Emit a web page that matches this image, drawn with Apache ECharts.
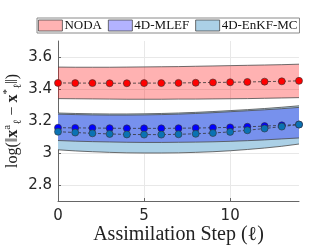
<!DOCTYPE html>
<html>
<head>
<meta charset="utf-8">
<script src="https://cdn.jsdelivr.net/npm/echarts@6/dist/echarts.min.js"></script>
<style>html,body{margin:0;padding:0;background:#fff}#c{width:332px;height:250px}</style>
</head>
<body>
<div id="c"></div>
<script>
var steps = ['0','1','2','3','4','5','6','7','8','9','10','11','12','13','14'];
var yTicks = [2.8,3.0,3.2,3.4,3.6];
var names = ['NODA','4D-MLEF','4D-EnKF-MC'];

var nodaMean  = [3.438,3.437,3.437,3.436,3.436,3.437,3.437,3.438,3.439,3.441,3.442,3.444,3.446,3.448,3.451];
var nodaUpper = [3.537,3.536,3.536,3.536,3.537,3.538,3.539,3.540,3.542,3.544,3.546,3.548,3.550,3.552,3.555];
var nodaLower = [3.340,3.339,3.338,3.337,3.336,3.336,3.336,3.337,3.337,3.338,3.339,3.340,3.342,3.344,3.346];

var mlefMean  = [3.158,3.157,3.156,3.155,3.154,3.154,3.154,3.155,3.156,3.158,3.160,3.164,3.168,3.173,3.178];
var mlefUpper = [3.243,3.240,3.238,3.237,3.237,3.238,3.240,3.243,3.247,3.252,3.258,3.264,3.270,3.277,3.285];
var mlefLower = [3.078,3.074,3.071,3.069,3.067,3.066,3.066,3.067,3.068,3.070,3.073,3.077,3.082,3.088,3.094];

var enkfMean  = [3.133,3.128,3.123,3.119,3.116,3.115,3.115,3.117,3.120,3.125,3.132,3.142,3.153,3.165,3.178];
var enkfUpper = [3.250,3.247,3.245,3.244,3.244,3.245,3.247,3.250,3.254,3.259,3.265,3.271,3.278,3.286,3.295];
var enkfLower = [3.020,3.013,3.008,3.004,3.001,3.000,3.000,3.001,3.004,3.008,3.014,3.022,3.031,3.042,3.056];

var fills = ['rgba(255,0,0,0.3)','rgba(0,0,255,0.3)','rgb(171,208,230)'];
var legendFills = ['#ffb3b3','#b3b3ff','#abd0e6'];
var markerColors = ['#ff0000','#0000ff','#0a72b4'];
var edge = '#4a4a4a';

function diffs(up, lo){ return up.map(function(v,i){return +(v-lo[i]).toFixed(4);}); }

function band(name, lo, up, fill, z){
  return [
    {name: name+' lower', type:'line', stack: name, data: lo, symbol:'none',
     lineStyle:{color:edge, width:0.8}, z:z, silent:true},
    {name: name, type:'line', stack: name, data: diffs(up, lo), symbol:'none',
     lineStyle:{color:edge, width:0.8}, areaStyle:{color:fill, opacity:1}, itemStyle:{color:fill}, z:z, silent:true}
  ];
}
function meanLine(name, ys, color, z){
  return {name: name+' mean', type:'line', data: ys, symbol:'circle', symbolSize:7,
    itemStyle:{color:color, borderColor:'#333', borderWidth:0.6},
    lineStyle:{color:'#333', width:0.8, type:[3,2]}, z:z, silent:true};
}

var series = [].concat(
  band(names[0], nodaLower, nodaUpper, fills[0], 1),
  band(names[2], enkfLower, enkfUpper, fills[2], 2),
  band(names[1], mlefLower, mlefUpper, fills[1], 3),
  [meanLine(names[0], nodaMean, markerColors[0], 5),
   meanLine(names[1], mlefMean, markerColors[1], 6),
   meanLine(names[2], enkfMean, markerColors[2], 7)]
);

var chart = echarts.init(document.getElementById('c'), null, {renderer:'canvas'});
chart.setOption({
  animation:false,
  backgroundColor:'#fff',
  grid:{left:58, top:41, width:241, height:160, containLabel:false, outerBoundsMode:'none'},
  legend:{
    left:37, top:18, padding:[1,2,1,1], itemGap:6, itemWidth:24, itemHeight:11,
    borderColor:'#8a8a8a', borderWidth:1, backgroundColor:'#fff',
    textStyle:{fontFamily:'Liberation Serif', fontSize:13, color:'#111', padding:[0,0,0,-3]},
    data: names.map(function(n,i){return {name:n, icon:'rect', itemStyle:{color:legendFills[i], borderColor:edge, borderWidth:0.8}};})
  },
  xAxis:{
    type:'category', data:steps, boundaryGap:false,
    name:'Assimilation Step (ℓ)', nameLocation:'middle', nameGap:24, nameMoveOverlap:false,
    nameTextStyle:{fontFamily:'Liberation Serif', fontSize:20, color:'#222'},
    axisLine:{show:true, lineStyle:{color:'#666', width:1}},
    axisTick:{show:true, inside:true, length:3, interval:4, lineStyle:{color:'#666'}},
    axisLabel:{interval:4, fontFamily:'DejaVu Sans', fontSize:15, color:'#262626', margin:8},
    splitLine:{show:true, interval:4, lineStyle:{color:'#e8e8e8', width:1}}
  },
  yAxis:{
    type:'value', min:2.7, max:3.7,
    name:'{n|log(‖}{b|x}{sup|a}{sub|ℓ}{n| − }{b|x}{sup|*}{sub|ℓ}{n|‖)}',
    nameLocation:'middle', nameRotate:90, nameGap:34, nameMoveOverlap:false,
    nameTextStyle:{fontFamily:'Liberation Serif', fontSize:16, color:'#222',
      rich:{
        n:{fontFamily:'Liberation Serif', fontSize:16, color:'#222', lineHeight:22, verticalAlign:'middle'},
        b:{fontFamily:'Liberation Serif', fontSize:16, fontWeight:'bold', color:'#222', lineHeight:22, verticalAlign:'middle'},
        sup:{fontFamily:'Liberation Serif', fontSize:11, color:'#222', lineHeight:11, verticalAlign:'top'},
        sub:{fontFamily:'Liberation Serif', fontSize:11, color:'#222', lineHeight:11, verticalAlign:'bottom'}
      }},
    axisLine:{show:true, lineStyle:{color:'#666', width:1}},
    axisTick:{show:true, inside:true, length:3, customValues:yTicks, lineStyle:{color:'#666'}},
    axisLabel:{customValues:yTicks, fontFamily:'DejaVu Sans', fontSize:15, color:'#262626', margin:6,
      formatter:function(v){return String(+v.toFixed(1));}},
    splitLine:{show:true, lineStyle:{color:'#e8e8e8', width:1}}
  },
  series: series
});
</script>
</body>
</html>
